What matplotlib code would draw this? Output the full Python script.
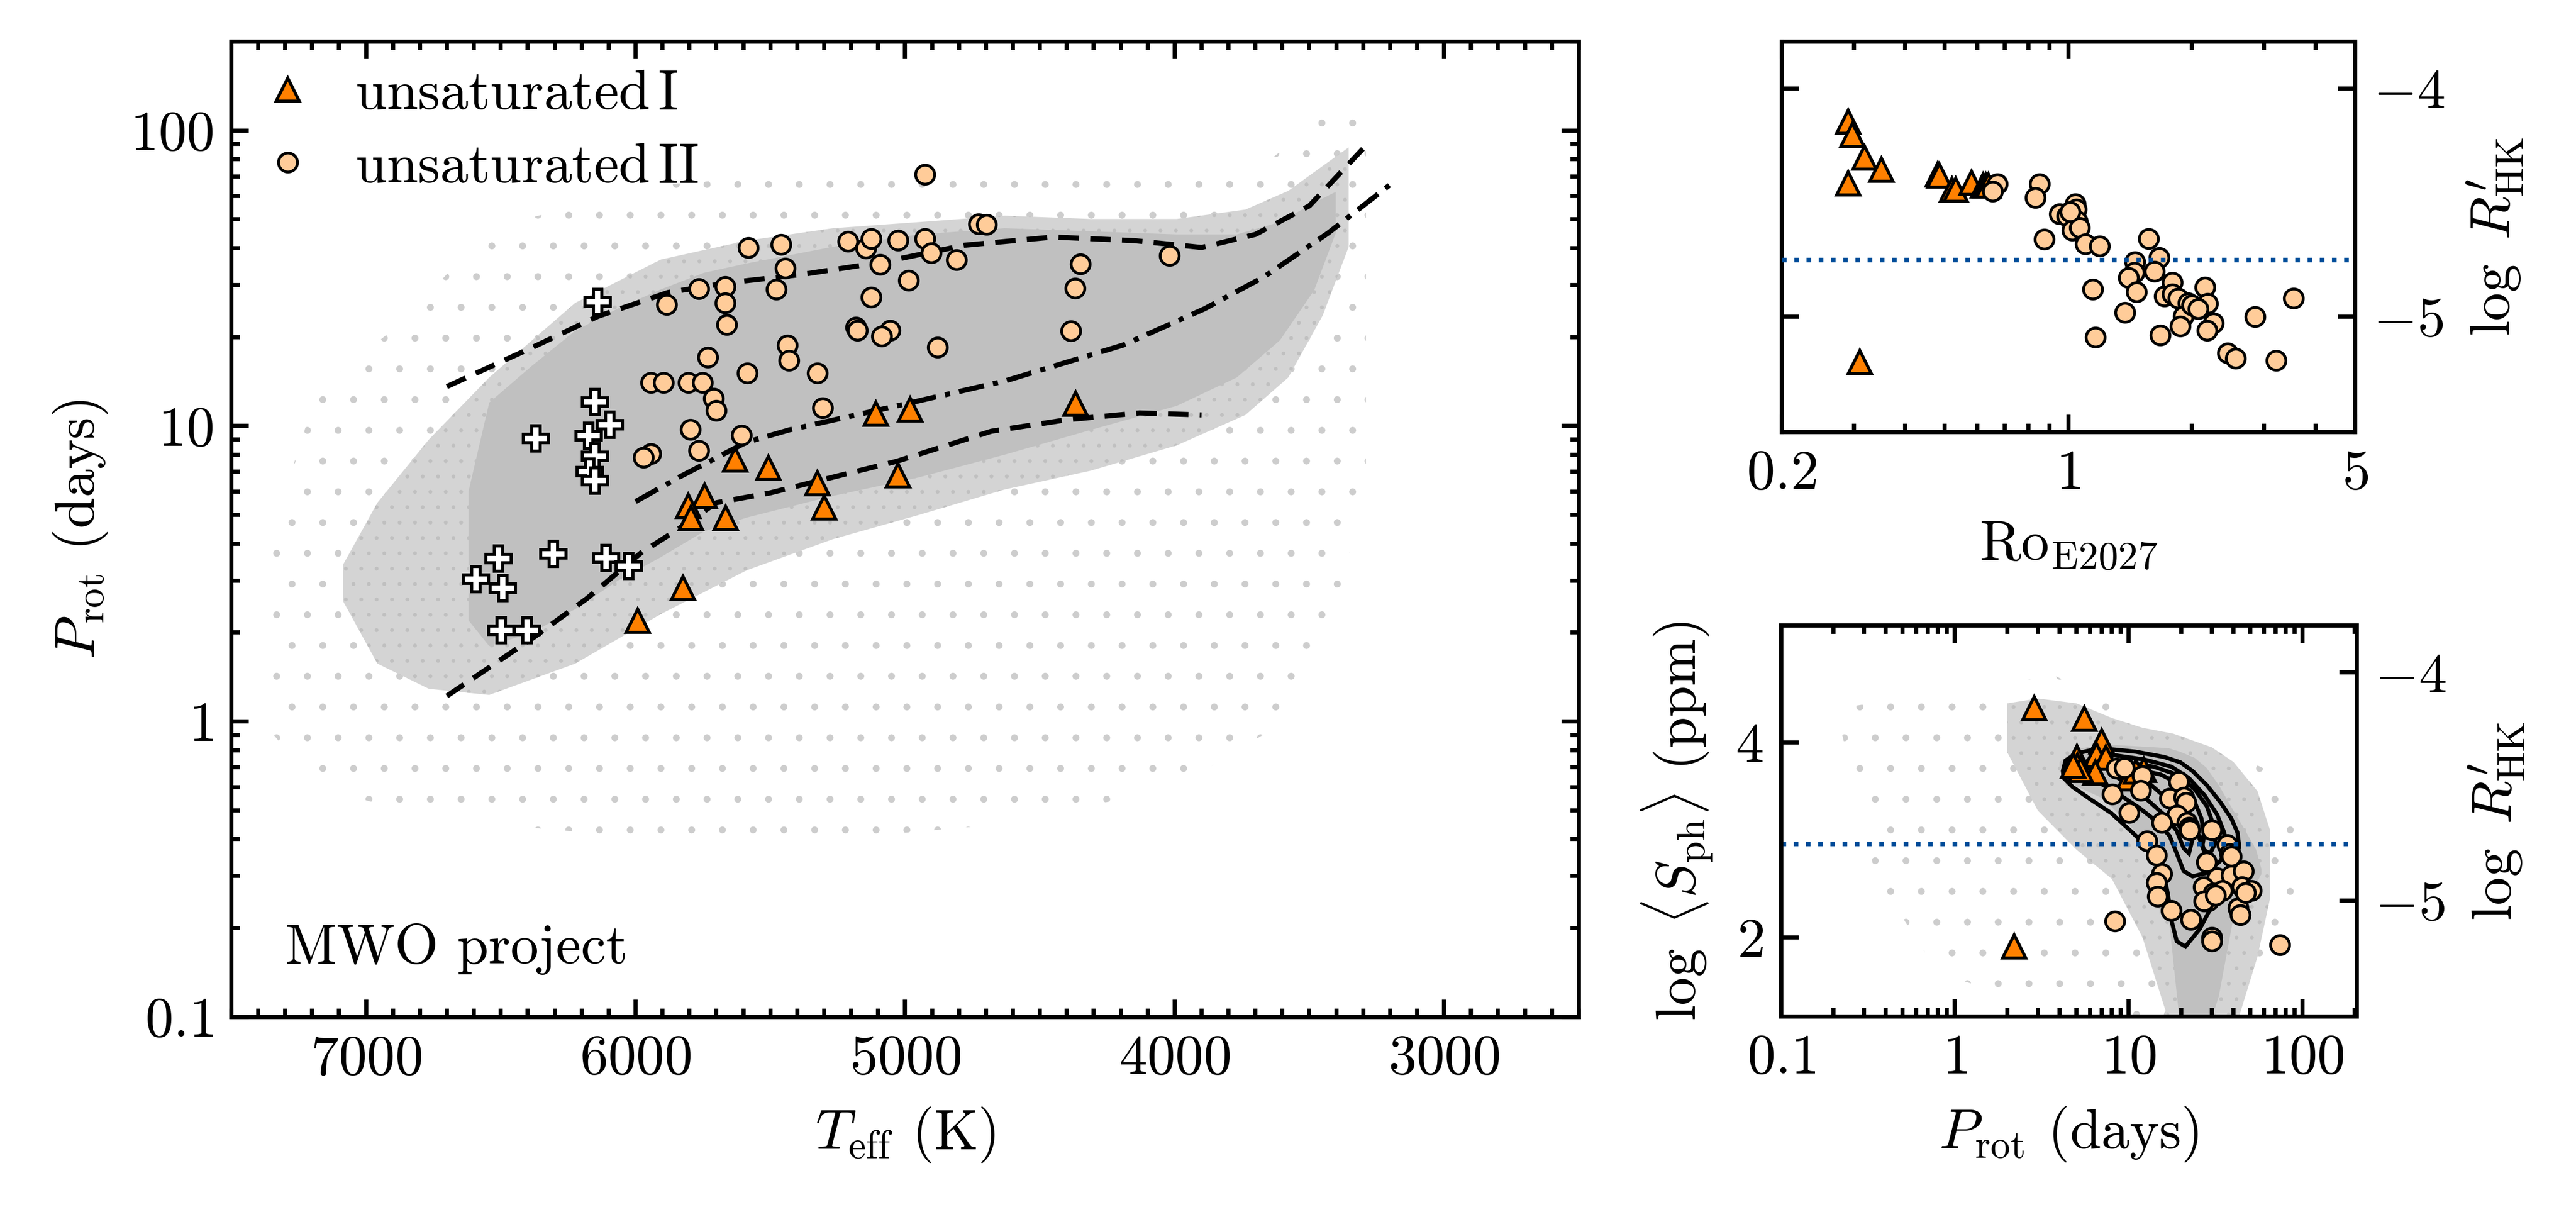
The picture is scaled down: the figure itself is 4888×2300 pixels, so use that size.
import numpy as np
import matplotlib
matplotlib.use("Agg")
import matplotlib.pyplot as plt
from matplotlib.ticker import MultipleLocator, NullFormatter, FuncFormatter

GRAY = "#c0c0c0"
HALO = "#cdcdcd"
ORANGE = "#ff8000"
PEACH = "#ffcc99"
BLUE = "#004c99"

plt.rcParams.update({
    "font.family": "serif",
    "font.serif": ["cmr10"],
    "mathtext.fontset": "cm",
    "axes.formatter.use_mathtext": True,
    "font.size": 11,
    "axes.linewidth": 0.8,
    "xtick.direction": "in",
    "ytick.direction": "in",
    "xtick.major.size": 3.4,
    "ytick.major.size": 3.4,
    "xtick.minor.size": 1.6,
    "ytick.minor.size": 1.6,
    "xtick.major.width": 0.8,
    "ytick.major.width": 0.8,
    "xtick.minor.width": 0.8,
    "ytick.minor.width": 0.8,
    "hatch.linewidth": 0.15,
    "hatch.color": HALO,
})

# ---- left panel: Teff vs Prot ----
# unsaturated I (triangles)
teff_I = [5109, 4982, 4368, 5631, 5507, 5326, 5299, 5027, 5744, 5805, 5795, 5666, 5825, 5993]
prot_I = [11.0, 11.4, 11.9, 7.7, 7.2, 6.4, 5.3, 6.8, 5.8, 5.36, 4.88, 4.89, 2.83, 2.19]

# unsaturated II (circles)
teff_II = [4927, 4727, 4697, 5581, 5461, 5212, 5146, 5126, 5026, 4927, 4903, 4809,
           5092, 5445, 5765, 5667, 5477, 5884, 5667, 5126, 4988, 5661, 5182, 5176,
           5056, 5086, 5437, 4879, 5733, 5431, 5585, 5326, 5944, 5896, 5805, 5751,
           5711, 5701, 5306, 5796, 5607, 5944, 5970, 5765, 4349, 4369, 4385, 4020]
prot_II = [71.1, 48.2, 48.0, 40.2, 41.1, 42.1, 39.9, 43.1, 42.5, 43.1, 38.5, 36.5,
           35.2, 34.2, 29.1, 29.6, 29.0, 25.8, 26.1, 27.3, 31.1, 22.0, 21.6, 21.1,
           21.1, 20.1, 18.8, 18.5, 17.1, 16.7, 15.1, 15.1, 14.0, 14.0, 14.0, 14.0,
           12.4, 11.3, 11.5, 9.74, 9.31, 8.07, 7.84, 8.27, 35.3, 29.2, 21.0, 37.8]

# saturated stars (white crosses)
teff_sat = [6140, 6150, 6096, 6175, 6369, 6150, 6170, 6150, 6509, 6305, 6110, 6026,
            6593, 6493, 6499, 6403]
prot_sat = [26.3, 12.05, 10.1, 9.27, 9.06, 7.89, 7.01, 6.54, 3.56, 3.70, 3.58, 3.36,
            3.03, 2.83, 2.04, 2.04]

# reference curves
up_teff = [6700, 6380, 6140, 5880, 5660, 5380, 5080, 4780, 4450, 4150, 3900, 3700, 3500, 3295]
up_prot = [13.6, 18.5, 23.5, 28.3, 30.5, 32.6, 35.9, 40.9, 43.6, 42.4, 40.2, 44.5, 55.6, 87.9]
lo_teff = [6700, 6380, 6180, 5980, 5840, 5700, 5500, 5320, 5030, 4680, 4400, 4130, 3900]
lo_prot = [1.22, 1.92, 2.61, 3.72, 4.49, 5.5, 5.94, 6.53, 7.6, 9.6, 10.5, 11.07, 10.9]
dd_teff = [6000, 5840, 5590, 5430, 5030, 4630, 4190, 3890, 3670, 3430, 3190]
dd_prot = [5.55, 6.7, 8.8, 9.7, 11.7, 14.2, 18.8, 24.9, 31.9, 45.0, 66.7]

# Kepler background cloud, read as envelopes (sparse / dense / core)
halo_teff = [7372, 7181, 6862, 6543, 5906, 5268, 4630, 3992, 3673, 3418, 3290]
halo_hi = [3.76, 13.2, 22.6, 46.7, 65.6, 72.0, 76.0, 69.0, 76.0, 117.0, 123.0]
halo_lo = [0.97, 0.6, 0.5, 0.45, 0.4, 0.4, 0.45, 0.6, 0.9, 2.0, 6.7]
mid_teff = [7085, 6958, 6767, 6543, 6224, 5906, 5587, 5268, 4949, 4630, 4311, 3992, 3737, 3578, 3450, 3354]
mid_hi = [3.4, 5.5, 9.0, 14.6, 26.1, 36.6, 42.4, 46.7, 49.0, 51.5, 50.2, 50.2, 54.0, 62.5, 75.9, 87.7]
mid_lo = [2.55, 1.57, 1.29, 1.23, 1.57, 2.31, 3.25, 4.14, 5.0, 6.1, 7.06, 8.6, 10.9, 14.6, 23.7, 40.4]
core_teff = [6620, 6543, 6384, 6224, 6065, 5906, 5746, 5587, 5268, 4949, 4630, 4311, 3992, 3769, 3609, 3482, 3402]
core_hi = [6.0, 12.0, 16.0, 21.0, 25.0, 29.0, 33.0, 35.5, 40.4, 44.5, 46.7, 45.6, 44.5, 44.5, 49.0, 57.0, 62.0]
core_lo = [2.2, 1.8, 2.0, 2.4, 3.0, 3.6, 4.4, 4.9, 5.8, 6.7, 8.0, 9.7, 11.7, 14.6, 19.5, 28.8, 45.0]

# ---- top right: Rossby number vs log R'HK ----
ro_I = [0.2904, 0.2976, 0.3188, 0.3501, 0.2904, 0.4800, 0.4848, 0.5205, 0.5307,
        0.580, 0.6202, 0.6293, 0.6387, 0.310]
rhk_I = [-4.145, -4.203, -4.303, -4.355, -4.416, -4.377, -4.381, -4.444, -4.444,
         -4.414, -4.426, -4.426, -4.426, -5.197]
ro_II = [0.671, 0.653, 0.850, 0.831, 1.041, 1.046, 0.952, 0.991, 1.051, 1.020, 1.066,
         0.872, 1.100, 1.191, 1.567, 1.664, 1.453, 1.448, 1.400, 1.618, 1.466, 1.145,
         1.374, 1.164, 1.675, 1.792, 1.714, 1.792, 1.850, 1.956, 2.118, 2.151, 2.186,
         1.905, 1.875, 2.256, 2.179, 2.443, 2.553, 2.847, 3.207, 3.534, 2.000, 2.070, 1.010]
rhk_II = [-4.417, -4.450, -4.417, -4.478, -4.505, -4.528, -4.550, -4.559, -4.582, -4.621,
          -4.609, -4.661, -4.682, -4.691, -4.659, -4.740, -4.759, -4.805, -4.828, -4.801,
          -4.891, -4.880, -4.982, -5.089, -5.080, -4.850, -4.909, -4.901, -4.920, -4.940,
          -4.959, -4.870, -4.943, -4.997, -5.042, -5.028, -5.060, -5.160, -5.182, -4.999,
          -5.191, -4.920, -4.950, -4.965, -4.540]
rhk_limit = -4.75

# ---- bottom right: Prot vs log <S_ph> ----
prot_sph_I = [2.87, 5.57, 6.98, 6.51, 5.03, 5.07, 7.4, 12.2, 6.43, 10.0, 2.2, 5.3, 11.0, 4.8]
sph_I = [4.35, 4.24, 4.01, 3.87, 3.85, 3.76, 3.84, 3.72, 3.69, 3.63, 1.91, 3.72, 3.70, 3.76]
prot_sph_II = [8.52, 9.46, 11.96, 11.68, 8.04, 10.03, 19.3, 17.2, 20.7, 21.4, 18.9, 21.7,
               22.2, 15.5, 30.1, 12.7, 36.7, 38.0, 14.4, 28.1, 15.5, 14.4, 14.6, 32.3,
               38.9, 45.8, 26.8, 30.8, 34.6, 44.8, 50.9, 28.7, 27.1, 17.6, 22.7, 42.7,
               43.7, 30.1, 30.1, 8.32, 74.0, 22.5, 39.0, 31.5, 47.0]
sph_II = [3.733, 3.742, 3.661, 3.508, 3.472, 3.283, 3.598, 3.427, 3.436, 3.382, 3.256, 3.175,
          3.130, 3.175, 3.103, 2.986, 2.950, 2.860, 2.842, 2.770, 2.653, 2.563, 2.419, 2.608,
          2.635, 2.680, 2.518, 2.455, 2.482, 2.518, 2.482, 2.374, 2.374, 2.275, 2.185, 2.302,
          2.230, 2.000, 1.960, 2.167, 1.924, 3.10, 2.83, 2.43, 2.46]

# density contours of the Kepler sample (4 levels, outer to inner)
c1_p = [4.18, 4.33, 4.98, 6.14, 7.76, 11.0, 16.0, 19.8, 23.3, 28.1, 33.8, 38.9, 42.2, 43.2,
        40.8, 35.4, 30.8, 25.6, 21.2, 18.9, 17.6, 16.8, 15.6, 13.3, 10.5, 7.94, 6.0, 4.75, 4.23]
c1_s = [3.706, 3.814, 3.886, 3.922, 3.931, 3.904, 3.850, 3.796, 3.706, 3.562, 3.382, 3.220,
        3.076, 2.932, 2.752, 2.572, 2.356, 2.086, 1.906, 1.960, 2.176, 2.446, 2.716, 2.896,
        3.076, 3.274, 3.418, 3.544, 3.634]
c2_p = [5.10, 6.14, 8.32, 12.38, 17.58, 22.2, 27.4, 32.3, 35.4, 36.3, 33.8, 28.1, 23.3,
        20.7, 18.9, 17.2, 14.6, 11.5, 8.72, 6.59, 5.46]
c2_s = [3.742, 3.841, 3.868, 3.823, 3.751, 3.634, 3.454, 3.256, 3.076, 2.932, 2.788, 2.662,
        2.626, 2.680, 2.860, 3.040, 3.184, 3.328, 3.472, 3.598, 3.670]
c3_p = [7.40, 10.03, 13.92, 18.86, 23.8, 28.1, 30.8, 31.5, 29.4, 27.1, 25.6, 23.8, 22.2,
        20.7, 18.86, 16.0, 12.68, 10.03, 8.13]
c3_s = [3.760, 3.787, 3.751, 3.670, 3.526, 3.346, 3.148, 2.968, 2.860, 2.896, 3.040, 3.076,
        2.860, 2.914, 3.094, 3.256, 3.418, 3.562, 3.670]
c4_p = [11.0, 15.28, 20.2, 23.8, 26.2, 27.1, 26.5, 25.0, 22.2, 18.4, 14.6, 12.1]
c4_s = [3.724, 3.670, 3.562, 3.400, 3.220, 3.040, 2.932, 3.058, 3.184, 3.346, 3.508, 3.634]

# Kepler background cloud in this plane
br_halo_p = [0.22, 0.35, 0.8, 1.74, 3.8, 8.3, 18.0, 40.0, 60.0, 80.0, 95.0]
br_halo_hi = [4.35, 4.41, 4.6, 4.6, 4.68, 4.37, 4.09, 3.89, 3.73, 3.58, 3.4]
br_halo_lo = [4.15, 2.63, 1.64, 1.44, 1.44, 1.24, 1.0, 1.28, 1.83, 2.23, 2.6]
br_mid_p = [2.0, 3.0, 5.0, 8.0, 12.0, 18.0, 30.0, 40.0, 55.0, 65.0]
br_mid_hi = [4.4, 4.45, 4.4, 4.25, 4.15, 4.09, 3.95, 3.80, 3.50, 3.1]
br_mid_lo = [3.9, 3.3, 2.9, 2.6, 2.0, 1.0, 1.0, 1.0, 1.8, 2.4]
br_core_p = [4.0, 5.0, 7.2, 11.0, 14.0, 17.0, 20.0, 24.0, 28.0, 33.0, 40.0, 46.0, 54.0, 58.0]
br_core_hi = [3.80, 3.93, 3.98, 3.96, 3.95, 3.94, 3.90, 3.84, 3.74, 3.56, 3.30, 3.12, 2.90, 2.70]
br_core_lo = [3.72, 3.55, 3.42, 3.08, 2.70, 2.20, 1.0, 1.0, 1.0, 1.40, 2.20, 2.40, 2.55, 2.65]


def cloud(ax, x, lo, hi, kind):
    if kind == "halo":
        ax.fill_between(x, lo, hi, facecolor="none", edgecolor=HALO, hatch="..", lw=0, zorder=1)
    elif kind == "mid":
        ax.fill_between(x, lo, hi, facecolor="#d4d4d4", edgecolor=GRAY, hatch="....", lw=0, zorder=1.1)
    else:
        ax.fill_between(x, lo, hi, facecolor=GRAY, lw=0, zorder=1.2)


def markers_I(ax, x, y, label=None):
    ax.plot(x, y, ls="none", marker="^", ms=4.6, mfc=ORANGE, mec="k", mew=0.6,
            zorder=5, label=label)


def markers_II(ax, x, y, label=None):
    ax.plot(x, y, ls="none", marker="o", ms=3.7, mfc=PEACH, mec="k", mew=0.55,
            zorder=6, label=label)


num_fmt = FuncFormatter(lambda v, p: f"${v:g}$")

fig = plt.figure(figsize=(4888 / 700, 2300 / 700), dpi=700)

# left panel
ax = fig.add_axes([0.0898, 0.1609, 0.5231, 0.8048])
ax.set_yscale("log")
cloud(ax, halo_teff, halo_lo, halo_hi, "halo")
cloud(ax, mid_teff, mid_lo, mid_hi, "mid")
cloud(ax, core_teff, core_lo, core_hi, "core")
ax.plot(up_teff, up_prot, color="k", ls="--", dashes=(4, 2.2), lw=1.0, zorder=3)
ax.plot(lo_teff, lo_prot, color="k", ls="--", dashes=(4, 2.2), lw=1.0, zorder=3)
ax.plot(dd_teff, dd_prot, color="k", ls="-.", dashes=(5, 1.8, 1, 1.8), lw=1.0, zorder=3)
ax.plot(teff_sat, prot_sat, ls="none", marker="P", ms=5.0, mfc="white", mec="k", mew=0.6, zorder=4)
markers_I(ax, teff_I, prot_I, label=r"unsaturated$\,$I")
markers_II(ax, teff_II, prot_II, label=r"unsaturated$\,$II")
ax.set_xlim(7500, 2500)
ax.set_ylim(0.1, 200)
ax.xaxis.set_major_locator(MultipleLocator(1000))
ax.xaxis.set_minor_locator(MultipleLocator(100))
ax.yaxis.set_major_formatter(num_fmt)
ax.yaxis.set_minor_formatter(NullFormatter())
ax.tick_params(which="both", top=True, right=True)
ax.set_xlabel(r"$T_\mathrm{eff}$ (K)")
ax.set_ylabel(r"$P_\mathrm{rot}$ (days)")
ax.legend(loc="upper left", frameon=False, handlelength=1.0, handletextpad=0.7,
          labelspacing=0.4, borderaxespad=0.3, borderpad=0.2)
ax.text(0.04, 0.055, "MWO project", transform=ax.transAxes, va="baseline")

# top right panel
axt = fig.add_axes([0.6916, 0.6435, 0.2227, 0.3223])
axt.set_xscale("log")
markers_I(axt, ro_I, rhk_I)
markers_II(axt, ro_II, rhk_II)
axt.axhline(rhk_limit, color=BLUE, ls=":", lw=0.9, zorder=8)
axt.set_xlim(0.2, 5)
axt.set_ylim(-5.505, -3.794)
axt.set_xticks([0.2, 1, 5])
axt.xaxis.set_major_formatter(num_fmt)
axt.xaxis.set_minor_formatter(NullFormatter())
axt.set_yticks([-5, -4])
axt.yaxis.set_major_formatter(num_fmt)
axt.tick_params(which="both", top=True, left=True, right=True, labelleft=False, labelright=True)
axt.yaxis.set_label_position("right")
axt.set_ylabel(r"$\log\ R^{\prime}_\mathrm{HK}$")
axt.set_xlabel(r"$\mathrm{Ro}_\mathrm{E2027}$")

# bottom right panel
axb = fig.add_axes([0.6914, 0.1614, 0.2235, 0.3226])
axb.set_xscale("log")
cloud(axb, br_halo_p, br_halo_lo, br_halo_hi, "halo")
cloud(axb, br_mid_p, br_mid_lo, br_mid_hi, "mid")
cloud(axb, br_core_p, br_core_lo, br_core_hi, "core")
for cp, cs in [(c1_p, c1_s), (c2_p, c2_s), (c3_p, c3_s), (c4_p, c4_s)]:
    axb.fill(cp, cs, facecolor="none", edgecolor="k", lw=0.8, zorder=3)
markers_I(axb, prot_sph_I, sph_I)
markers_II(axb, prot_sph_II, sph_II)
axb.set_xlim(0.1, 205)
axb.set_ylim(1.19, 5.2)
axb.xaxis.set_major_formatter(num_fmt)
axb.xaxis.set_minor_formatter(NullFormatter())
axb.set_yticks([2, 4])
axb.yaxis.set_major_formatter(num_fmt)
axb.tick_params(which="both", top=True, right=False)
axb.set_xlabel(r"$P_\mathrm{rot}$ (days)")
axb.set_ylabel(r"$\log\ \langle S_\mathrm{ph}\rangle$ (ppm)")

axr = axb.twinx()
axr.axhline(rhk_limit, color=BLUE, ls=":", lw=0.9)
axr.set_ylim(-5.508, -3.793)
axr.set_yticks([-5, -4])
axr.yaxis.set_major_formatter(num_fmt)
axr.set_ylabel(r"$\log\ R^{\prime}_\mathrm{HK}$")

fig.savefig("out.png", dpi=700)
